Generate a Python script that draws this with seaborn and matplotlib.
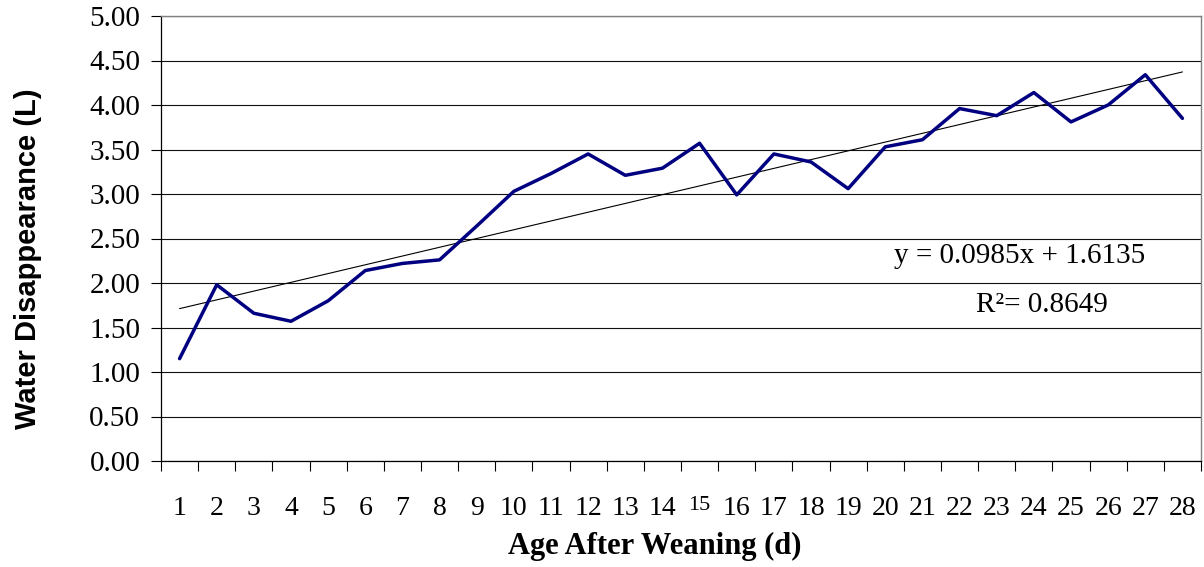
import numpy as np
import pandas as pd
import matplotlib.pyplot as plt
import seaborn as sns
from matplotlib.ticker import FixedLocator, FormatStrFormatter

# Daily water disappearance
days = list(range(1, 29))
water = [1.15, 1.98, 1.66, 1.57, 1.80, 2.14, 2.22, 2.26, 2.64, 3.03,
         3.23, 3.45, 3.21, 3.29, 3.57, 2.99, 3.45, 3.36, 3.06, 3.53,
         3.61, 3.96, 3.88, 4.14, 3.81, 4.00, 4.34, 3.85]

# Linear trend shown on the chart
slope = 0.0985
intercept = 1.6135
r_squared = 0.8649

df = pd.DataFrame({'day': days, 'water': water})
df['trend'] = slope * df['day'] + intercept

sns.set_style('white')
plt.rcParams['font.family'] = ['Liberation Serif', 'DejaVu Serif']
plt.rcParams['text.color'] = 'black'
plt.rcParams['axes.labelcolor'] = 'black'
plt.rcParams['xtick.color'] = 'black'
plt.rcParams['ytick.color'] = 'black'

fig = plt.figure(figsize=(12.04, 5.67), dpi=100)
ax = fig.add_axes([161 / 1204, 1 - 461 / 567, 1040 / 1204, 445 / 567])

ax.set_axisbelow(True)
ax.yaxis.grid(True, color='#111111', linewidth=0.8)
ax.xaxis.grid(False)

sns.lineplot(data=df, x='day', y='trend', color='black', linewidth=0.8, ax=ax)
sns.lineplot(data=df, x='day', y='water', color='#000080', linewidth=2.5, ax=ax)

ax.set_xlim(0.5, 28.5)
ax.set_ylim(0, 5)

# x: labels at category centres, ticks at category boundaries
ax.set_xticks(days)
ax.set_xticklabels([str(d) for d in days])
ax.xaxis.set_minor_locator(FixedLocator(np.arange(0.5, 28.6, 1)))
ax.tick_params(axis='x', which='major', length=0, pad=25, labelsize=20)
ax.tick_params(axis='x', which='minor', length=7, width=0.8, direction='out',
               bottom=True, color='black')

ax.set_yticks(np.arange(0, 5.01, 0.5))
ax.yaxis.set_major_formatter(FormatStrFormatter('%.2f'))
ax.tick_params(axis='y', length=7, width=0.8, direction='out', left=True,
               labelsize=21, pad=8, color='black')

# the "15" label is smaller in the original
for lbl in ax.get_xticklabels():
    if lbl.get_text() == '15':
        lbl.set_fontsize(16)

for side in ['left', 'bottom']:
    ax.spines[side].set_color('black')
    ax.spines[side].set_linewidth(0.9)
for side in ['right', 'top']:
    ax.spines[side].set_color('#808080')
    ax.spines[side].set_linewidth(1.0)

ax.set_ylabel('Water Disappearance (L)', family=['Liberation Sans', 'DejaVu Sans'],
              fontweight='bold', fontsize=21, va='center')
ax.yaxis.set_label_coords(-0.128, 0.454)
ax.set_xlabel('Age After Weaning (d)', fontweight='bold', fontsize=22, va='center')
ax.xaxis.set_label_coords(0.475, -0.193)

ax.text(0.826, 0.445, f'y = {slope}x + {intercept}', transform=ax.transAxes,
        ha='center', va='baseline', fontsize=21)
ax.text(0.8466, 0.3355, f'R²= {r_squared}', transform=ax.transAxes,
        ha='center', va='baseline', fontsize=21)

fig.savefig('out.png', dpi=100)
